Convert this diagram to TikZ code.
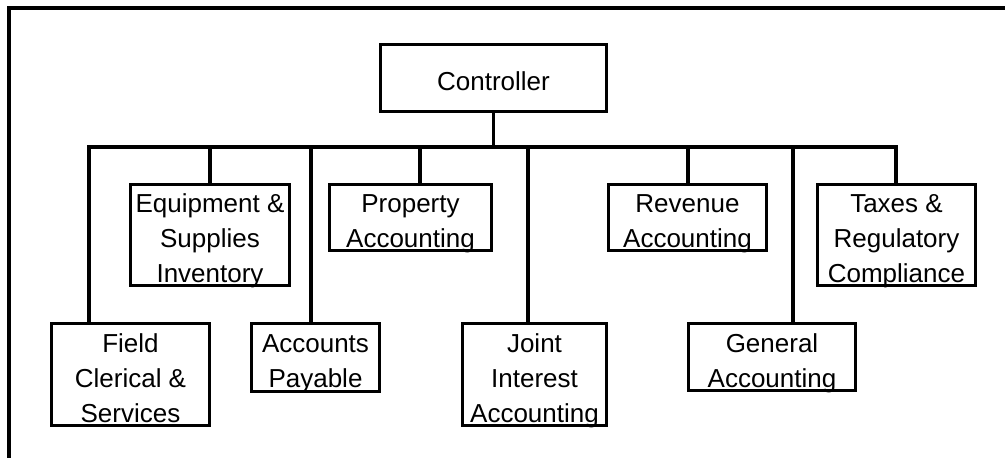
\documentclass[tikz,border=0pt]{standalone}
\usepackage{fontspec}
\setmainfont{Liberation Sans}
\begin{document}
\begin{tikzpicture}[x=1pt,y=-1pt,
  line width=3.2pt,
  unit/.style={draw, line width=3.2pt, inner sep=0pt, align=center,
    font=\fontsize{26pt}{35pt}\selectfont, text depth=0pt},
  oneline/.style={unit, text height=25pt},
  twoline/.style={unit, text height=60pt},
  threeline/.style={unit, text height=95pt},
  link/.style={line width=3.2pt}]
\useasboundingbox (0,0) rectangle (1005,458);

% outer frame (top and left edges)
\draw[line width=3.5pt] (9,458) -- (9,8) -- (1005,8);

% head of the chart
\node[oneline, minimum width=226pt, minimum height=67pt] (ctrl) at (493.5,78) {Controller};

% upper row of units
\node[threeline, minimum width=159pt, minimum height=101pt] (equip) at (210,235) {Equipment \&\\Supplies\\Inventory};
\node[twoline, minimum width=162pt, minimum height=66pt] (prop) at (410.5,217.5) {Property\\Accounting};
\node[twoline, minimum width=158pt, minimum height=66pt] (rev) at (687.5,217.5) {Revenue\\Accounting};
\node[threeline, minimum width=158pt, minimum height=101pt] (tax) at (896.5,235) {Taxes \&\\Regulatory\\Compliance};

% lower row of units
\node[threeline, minimum width=158pt, minimum height=102pt] (field) at (130.5,374.5) {Field\\Clerical \&\\Services};
\node[twoline, minimum width=128pt, minimum height=68pt] (ap) at (315.5,357.5) {Accounts\\Payable};
\node[threeline, minimum width=144pt, minimum height=102pt] (joint) at (534.5,374.5) {Joint\\Interest\\Accounting};
\node[twoline, minimum width=167pt, minimum height=67pt] (gen) at (772,357) {General\\Accounting};

% drop points on the horizontal bus
\coordinate (jField) at (89,147);
\coordinate (jEquip) at (210,147);
\coordinate (jAp) at (311,147);
\coordinate (jProp) at (420,147);
\coordinate (jJoint) at (528,147);
\coordinate (jRev) at (688,147);
\coordinate (jGen) at (793,147);
\coordinate (jTax) at (896,147);

% bus with its two end drops
\draw[link] (jField |- field.north) -- (jField) -- (jTax) -- (jTax |- tax.north);
\draw[link] (ctrl.south) -- (ctrl.south |- jField);

% inner drops
\draw[link] (jEquip) -- (jEquip |- equip.north);
\draw[link] (jAp) -- (jAp |- ap.north);
\draw[link] (jProp) -- (jProp |- prop.north);
\draw[link] (jJoint) -- (jJoint |- joint.north);
\draw[link] (jRev) -- (jRev |- rev.north);
\draw[link] (jGen) -- (jGen |- gen.north);
\end{tikzpicture}
\end{document}
